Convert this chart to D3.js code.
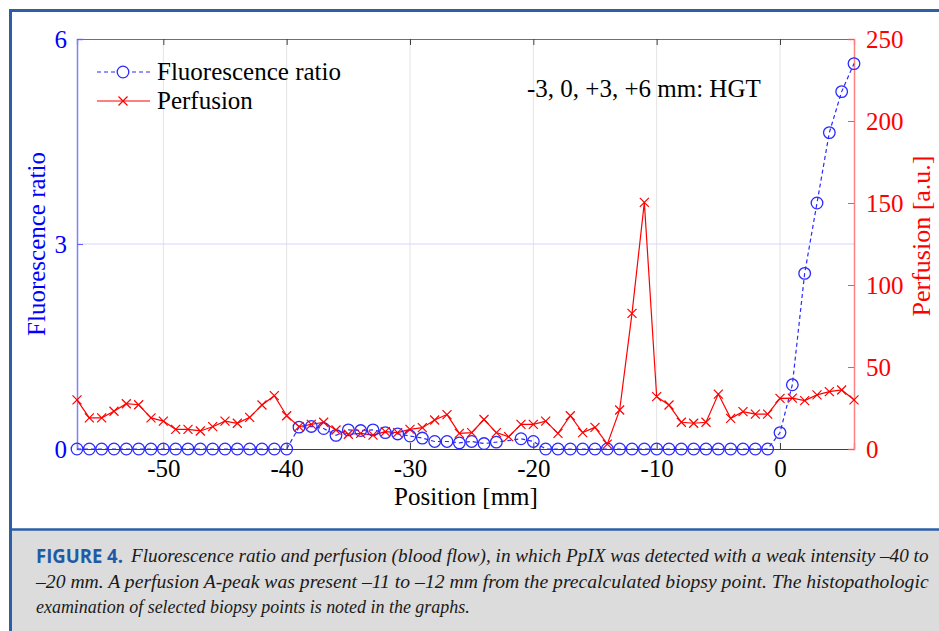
<!DOCTYPE html>
<html><head><meta charset="utf-8">
<script src="https://cdn.jsdelivr.net/npm/d3@7"></script>
<style>body{margin:0;background:#fff}svg{display:block}</style>
</head><body>
<svg id="c" width="939" height="631"></svg>
<script>
// ---- data ----
const positions = [-57,-56,-55,-54,-53,-52,-51,-50,-49,-48,-47,-46,-45,-44,-43,-42,-41,-40,-39,-38,-37,-36,-35,-34,-33,-32,-31,-30,-29,-28,-27,-26,-25,-24,-23,-22,-21,-20,-19,-18,-17,-16,-15,-14,-13,-12,-11,-10,-9,-8,-7,-6,-5,-4,-3,-2,-1,0,1,2,3,4,5,6];
const fluorescence = [0,0,0,0,0,0,0,0,0,0,0,0,0,0,0,0,0,0,
  0.32,0.33,0.30,0.20,0.28,0.27,0.28,0.24,0.22,0.19,0.16,0.11,0.11,0.09,0.11,0.08,0.10,null,0.15,0.11,
  0,0,0,0,0,0,0,0,0,0,0,0,0,0,0,0,0,0,0,
  0.24,0.94,2.57,3.6,4.63,5.23,5.64];
const perfusion = [30,19,19,23,27.6,27,19,17,12,12,11,13.6,17,15.7,19.3,26.8,32.5,20.3,13.6,15,
  16.3,11.6,9,9.5,8.5,10.6,10,12,13,17.7,21,9.5,10,18,10,7.5,15,15,17,9.5,
  20.3,10,13.2,3,23.8,82.7,150.4,31.9,26.8,16.3,15.7,16.3,33.5,18.7,22.8,21.3,21.3,30.9,31,29.5,
  33,35,36,30];
const xTicks = [-50,-40,-30,-20,-10,0];
const yLeftTicks = [0,3,6];
const yRightTicks = [0,50,100,150,200,250];
const seriesNames = ["Fluorescence ratio","Perfusion"];
const annotation = "-3, 0, +3, +6 mm: HGT";
const xLabel = "Position [mm]";
const yLeftLabel = "Fluorescence ratio";
const yRightLabel = "Perfusion [a.u.]";
const captionHead = "FIGURE 4.";
const captionLines = [
  "Fluorescence ratio and perfusion (blood flow), in which PpIX was detected with a weak intensity \u201340 to",
  "\u201320 mm. A perfusion A-peak was present \u201311 to \u201312 mm from the precalculated biopsy point. The histopathologic",
  "examination of selected biopsy points is noted in the graphs."
];

// ---- layout ----
const svg = d3.select("#c");
const L = 77, R = 854, T = 39, B = 449;
const serif = "'Liberation Serif','Times New Roman',serif";
const BLUE = "#0000ff", RED = "#ff0000";

const x = d3.scaleLinear().domain([-57, 6]).range([L, R]);
const yL = d3.scaleLinear().domain([0, 6]).range([B, T]);
const yR = d3.scaleLinear().domain([0, 250]).range([B, T]);

// frame
svg.append("rect").attr("x",0).attr("y",0).attr("width",939).attr("height",631).attr("fill","#fff");
svg.append("rect").attr("x",11).attr("y",530).attr("width",928).attr("height",101).attr("fill","#dcdcdc");
svg.append("line").attr("x1",10).attr("x2",939).attr("y1",529.5).attr("y2",529.5).attr("stroke","#2b5fa8").attr("stroke-width",2.5);
svg.append("line").attr("x1",10).attr("x2",939).attr("y1",10.5).attr("y2",10.5).attr("stroke","#2b5fa8").attr("stroke-width",3);
svg.append("line").attr("x1",10.5).attr("x2",10.5).attr("y1",9).attr("y2",631).attr("stroke","#2b5fa8").attr("stroke-width",3);

// grid
const g = svg.append("g");
g.selectAll(".vg").data(xTicks).join("line")
  .attr("x1",d=>x(d)).attr("x2",d=>x(d)).attr("y1",T).attr("y2",B)
  .attr("stroke","#e3e3e3").attr("stroke-width",1);
g.selectAll(".hg").data(yLeftTicks.filter(d=>d>0 && d<6)).join("line")
  .attr("x1",L).attr("x2",R).attr("y1",d=>yL(d)).attr("y2",d=>yL(d))
  .attr("stroke","#d4d4ff").attr("stroke-width",1);

// axes via d3
const xAxisB = d3.axisBottom(x).tickValues(xTicks).tickSize(-6).tickPadding(12).tickFormat(d=>d);
const gx = svg.append("g").attr("transform",`translate(0,${B})`).call(xAxisB);
gx.select(".domain").attr("stroke","#404040").attr("stroke-width",1.2);
gx.selectAll(".tick line").attr("stroke","#404040");
gx.selectAll("text").attr("font-family",serif).attr("font-size",25).attr("fill","#000").attr("dy","0.62em");

const gxT = svg.append("g").attr("transform",`translate(0,${T})`).call(d3.axisTop(x).tickValues(xTicks).tickSize(-6).tickFormat(""));
gxT.select(".domain").attr("stroke","#707070").attr("stroke-width",1.2);
gxT.selectAll(".tick line").attr("stroke","#404040");

const gyL = svg.append("g").attr("transform",`translate(${L},0)`)
  .call(d3.axisLeft(yL).tickValues(yLeftTicks).tickSize(-6).tickPadding(10).tickFormat(d=>d));
gyL.select(".domain").attr("stroke","#8080ff").attr("stroke-width",1.5);
gyL.selectAll(".tick line").attr("stroke","#6060ff");
gyL.selectAll("text").attr("font-family",serif).attr("font-size",25).attr("fill",BLUE);

const gyR = svg.append("g").attr("transform",`translate(${R},0)`)
  .call(d3.axisRight(yR).tickValues(yRightTicks).tickSize(-6).tickPadding(12).tickFormat(d=>d));
gyR.select(".domain").attr("stroke","#ff8080").attr("stroke-width",1.5);
gyR.selectAll(".tick line").attr("stroke","#ff5050");
gyR.selectAll("text").attr("font-family",serif).attr("font-size",25).attr("fill",RED);

// axis titles
svg.append("text").attr("x",466).attr("y",505).attr("text-anchor","middle")
  .attr("font-family",serif).attr("font-size",25).text(xLabel);
svg.append("text").attr("transform",`translate(45,244) rotate(-90)`).attr("text-anchor","middle")
  .attr("font-family",serif).attr("font-size",25).attr("fill",BLUE).text(yLeftLabel);
svg.append("text").attr("transform",`translate(930,236) rotate(-90)`).attr("text-anchor","middle")
  .attr("font-family",serif).attr("font-size",26).attr("fill",RED).text(yRightLabel);

// series
const fData = positions.map((p,i)=>({p, v:fluorescence[i]})).filter(d=>d.v!==null);
const pData = positions.map((p,i)=>({p, v:perfusion[i]}));

svg.append("path").datum(fData)
  .attr("d", d3.line().x(d=>x(d.p)).y(d=>yL(d.v)))
  .attr("fill","none").attr("stroke","#2a2aff").attr("stroke-width",1.2).attr("stroke-dasharray","4,3");
svg.append("path").datum(pData)
  .attr("d", d3.line().x(d=>x(d.p)).y(d=>yR(d.v)))
  .attr("fill","none").attr("stroke",RED).attr("stroke-width",1.2);

svg.append("g").selectAll("circle").data(fData).join("circle")
  .attr("cx",d=>x(d.p)).attr("cy",d=>yL(d.v)).attr("r",5.8)
  .attr("fill","none").attr("stroke","#2a2aff").attr("stroke-width",1.3);

const xm = (sel, s) => sel.attr("d", d=>`M${-s},${-s}L${s},${s}M${-s},${s}L${s},${-s}`);
svg.append("g").selectAll("path").data(pData).join("path")
  .attr("transform",d=>`translate(${x(d.p)},${yR(d.v)})`)
  .call(xm,4.5).attr("stroke",RED).attr("stroke-width",1.2).attr("fill","none");

// legend
const lg = svg.append("g");
lg.append("line").attr("x1",97).attr("x2",150).attr("y1",72).attr("y2",72)
  .attr("stroke","#2a2aff").attr("stroke-width",1.2).attr("stroke-dasharray","4,3");
lg.append("circle").attr("cx",123).attr("cy",72).attr("r",5.8).attr("fill","#fff").attr("stroke","#2a2aff").attr("stroke-width",1.3);
lg.append("line").attr("x1",97).attr("x2",150).attr("y1",101).attr("y2",101).attr("stroke",RED).attr("stroke-width",1.2);
lg.append("path").attr("transform","translate(123,101)").datum(0).call(xm,4.5).attr("stroke",RED).attr("stroke-width",1.2);
lg.selectAll("text").data(seriesNames).join("text")
  .attr("x",157).attr("y",(d,i)=>72+i*29).attr("dy","0.33em")
  .attr("font-family",serif).attr("font-size",25).text(d=>d);

// annotation
svg.append("text").attr("x",527).attr("y",89).attr("dy","0.33em")
  .attr("font-family",serif).attr("font-size",25).text(annotation);

// caption: squeeze horizontally with a scale transform so the box fits
function fitText(sel, x0, y0, w) {
  const n = sel.node();
  const nat = n.getComputedTextLength();
  const s = w / nat;
  sel.attr("transform", `translate(${x0},${y0}) scale(${s},1)`);
}
const head = svg.append("text").attr("font-family","'Open Sans','Liberation Sans',sans-serif")
  .attr("font-weight","bold").attr("font-size",20).attr("fill","#1f5aa6").text(captionHead);
fitText(head, 36, 563, 87);
const capX = [131,36,36], capW = [798,893,434], capY = [562,588,613];
captionLines.forEach((t,i)=>{
  const tx = svg.append("text")
    .attr("font-family",serif).attr("font-style","italic").attr("font-size",19.5).attr("fill","#1a1a1a").text(t);
  fitText(tx, capX[i], capY[i], capW[i]);
});
</script>
</body></html>
